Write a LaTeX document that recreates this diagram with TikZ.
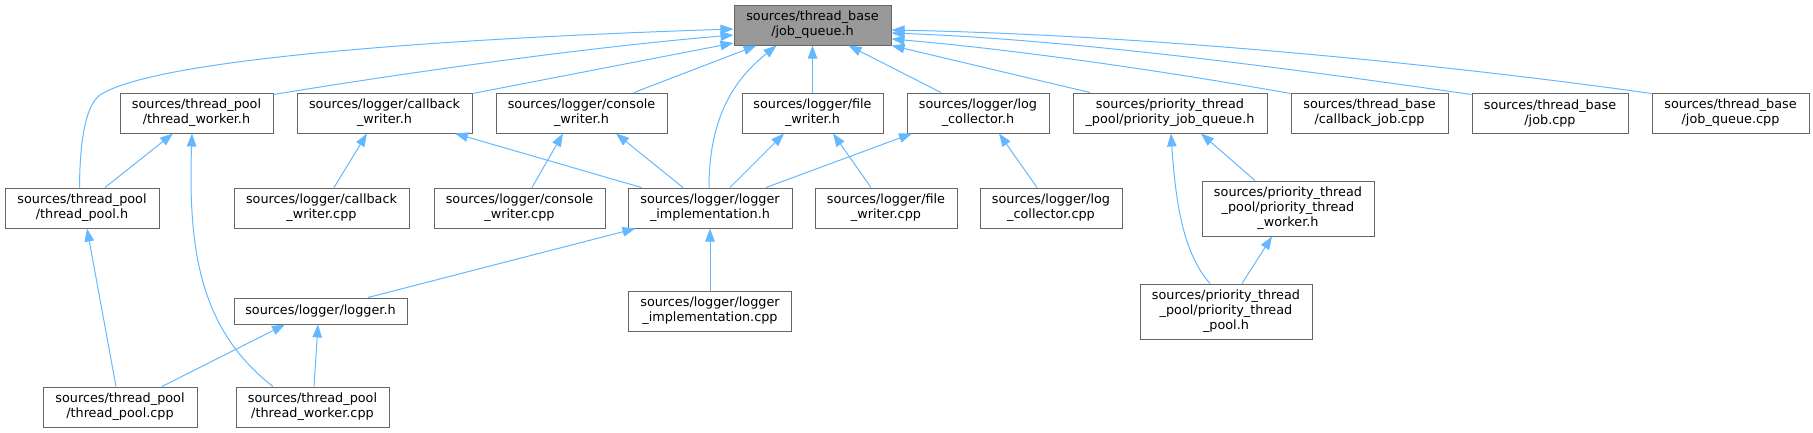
\documentclass[tikz,border=0pt]{standalone}
\usepackage{fontspec}
\setmainfont{DejaVu Sans}
\usetikzlibrary{arrows.meta,calc}
\definecolor{edgeblue}{HTML}{63B8FF}
\definecolor{boxgray}{HTML}{666666}
\definecolor{mainfill}{HTML}{999999}
\tikzset{
  box/.style={draw=boxgray, line width=1pt, fill=white, inner sep=0pt, align=center,
    font=\fontsize{12.8}{15}\selectfont, minimum height=40pt},
  edge/.style={draw=edgeblue, line width=1pt, arrows={Triangle[length=13pt,width=9.5pt]-}}
}
\begin{document}
\begin{tikzpicture}[x=1pt,y=-1pt]
\useasboundingbox (0,0) rectangle (1813,432);
% row 1
\node[box, fill=mainfill, minimum width=157pt] (jq) at (812.5,25) {sources/thread\_base\\/job\_queue.h};
% row 2
\node[box, minimum width=153pt] (twh) at (196.5,113) {sources/thread\_pool\\/thread\_worker.h};
\node[box, minimum width=175pt] (cwh) at (384.5,113) {sources/logger/callback\\\_writer.h};
\node[box, minimum width=171pt] (coh) at (581.5,113) {sources/logger/console\\\_writer.h};
\node[box, minimum width=141pt] (fwh) at (812.5,113) {sources/logger/file\\\_writer.h};
\node[box, minimum width=142pt] (lch) at (978,113) {sources/logger/log\\\_collector.h};
\node[box, minimum width=194pt] (pjqh) at (1170,113) {sources/priority\_thread\\\_pool/priority\_job\_queue.h};
\node[box, minimum width=157pt] (cjcpp) at (1369.5,113) {sources/thread\_base\\/callback\_job.cpp};
\node[box, minimum width=156pt] (jobcpp) at (1550,113) {sources/thread\_base\\/job.cpp};
\node[box, minimum width=157pt] (jqcpp) at (1730.5,113) {sources/thread\_base\\/job\_queue.cpp};
% row 3
\node[box, minimum width=154pt] (tph) at (82,208) {sources/thread\_pool\\/thread\_pool.h};
\node[box, minimum width=175pt] (cwcpp) at (321.5,208) {sources/logger/callback\\\_writer.cpp};
\node[box, minimum width=171pt] (cocpp) at (519.5,208) {sources/logger/console\\\_writer.cpp};
\node[box, minimum width=164pt] (lih) at (710,208) {sources/logger/logger\\\_implementation.h};
\node[box, minimum width=142pt] (fwcpp) at (886,208) {sources/logger/file\\\_writer.cpp};
\node[box, minimum width=142pt] (lccpp) at (1051,208) {sources/logger/log\\\_collector.cpp};
\node[box, minimum width=172pt, minimum height=55pt] (ptwh) at (1288,208.5) {sources/priority\_thread\\\_pool/priority\_thread\hspace*{15.7pt}\\\_worker.h};
% row 4
\node[box, minimum width=173pt, minimum height=26pt] (loggerh) at (320.5,311) {sources/logger/logger.h};
\node[box, minimum width=163pt] (licpp) at (710,311) {sources/logger/logger\\\_implementation.cpp};
\node[box, minimum width=172pt, minimum height=55pt] (ptph) at (1226,311.5) {sources/priority\_thread\\\_pool/priority\_thread\hspace*{15.7pt}\\\_pool.h};
% row 5
\node[box, minimum width=154pt] (tpcpp) at (120,407) {sources/thread\_pool\\/thread\_pool.cpp};
\node[box, minimum width=153pt] (twcpp) at (312.5,407) {sources/thread\_pool\\/thread\_worker.cpp};

% edges into job_queue.h
\draw[edge] ($(jq.west)+(0,4)$) .. controls (400,40) and (150,62) .. (100,95) .. controls (88,104) and (80,130) .. ($(tph.north west)+(75,0)$);
\draw[edge] ($(jq.west)+(0,10)$) .. controls (590,47) and (410,72) .. ($(twh.north east)+(0,2)$);
\draw[edge] ($(jq.west)+(0,18)$) -- ($(cwh.north east)+(0,1)$);
\draw[edge] ($(jq.south west)+(23,0)$) -- ($(coh.north)+(52.5,0)$);
\draw[edge] ($(jq.south west)+(43,0)$) .. controls (740,75) and (709,110) .. ($(lih.north)+(-1,0)$);
\draw[edge] (jq.south) -- (fwh.north);
\draw[edge] ($(jq.south east)+(-43,0)$) -- ($(lch.north)+(-37,0)$);
\draw[edge] (jq.south east) -- ($(pjqh.north)+(-80,0)$);
\draw[edge] ($(jq.east)+(0,14)$) .. controls (1020,50) and (1170,72) .. ($(cjcpp.north west)+(0,1)$);
\draw[edge] ($(jq.east)+(0,8)$) .. controls (1080,40) and (1300,70) .. ($(jobcpp.north west)+(0,2)$);
\draw[edge] ($(jq.east)+(0,5)$) .. controls (1150,35) and (1450,65) .. ($(jqcpp.north west)+(0,1)$);
% row 2 -> row 3 and below
\draw[edge] ($(twh.south)+(-23.5,0)$) -- ($(tph.north)+(23,0)$);
\draw[edge] ($(twh.south)+(-4.5,0)$) .. controls (188,250) and (200,330) .. ($(twcpp.north)+(-39.5,0)$);
\draw[edge] ($(cwh.south)+(-17.5,0)$) -- ($(cwcpp.north)+(12.5,0)$);
\draw[edge] ($(cwh.south)+(70.5,0)$) -- ($(lih.north west)+(14,0)$);
\draw[edge] ($(coh.south)+(-18.5,0)$) -- ($(cocpp.north)+(12.5,0)$);
\draw[edge] ($(coh.south)+(34.5,0)$) -- ($(lih.north)+(-27,0)$);
\draw[edge] ($(fwh.south)+(-28.5,0)$) -- ($(lih.north)+(20,0)$);
\draw[edge] ($(fwh.south)+(20.5,0)$) -- ($(fwcpp.north)+(-15,0)$);
\draw[edge] ($(lch.south)+(-66,0)$) -- ($(lih.north)+(56,0)$);
\draw[edge] ($(lch.south)+(21,0)$) -- ($(lccpp.north)+(-14,0)$);
\draw[edge] ($(pjqh.south)+(31,0)$) -- ($(ptwh.north)+(-33,0)$);
\draw[edge] ($(pjqh.south)+(1,0)$) .. controls (1176,210) and (1185,255) .. ($(ptph.north)+(-16,0)$);
\draw[edge] ($(ptwh.south)+(-16,0)$) -- ($(ptph.north)+(16,0)$);
\draw[edge] ($(tph.south)+(5,0)$) -- ($(tpcpp.north)+(-4,0)$);
\draw[edge] ($(lih.south west)+(8,0)$) -- ($(loggerh.north)+(47.5,0)$);
\draw[edge] (lih.south) -- (licpp.north);
\draw[edge] ($(loggerh.south)+(-35.5,0)$) -- ($(tpcpp.north)+(42,0)$);
\draw[edge] ($(loggerh.south)+(-2.5,0)$) -- ($(twcpp.north)+(1.5,0)$);
\end{tikzpicture}
\end{document}
